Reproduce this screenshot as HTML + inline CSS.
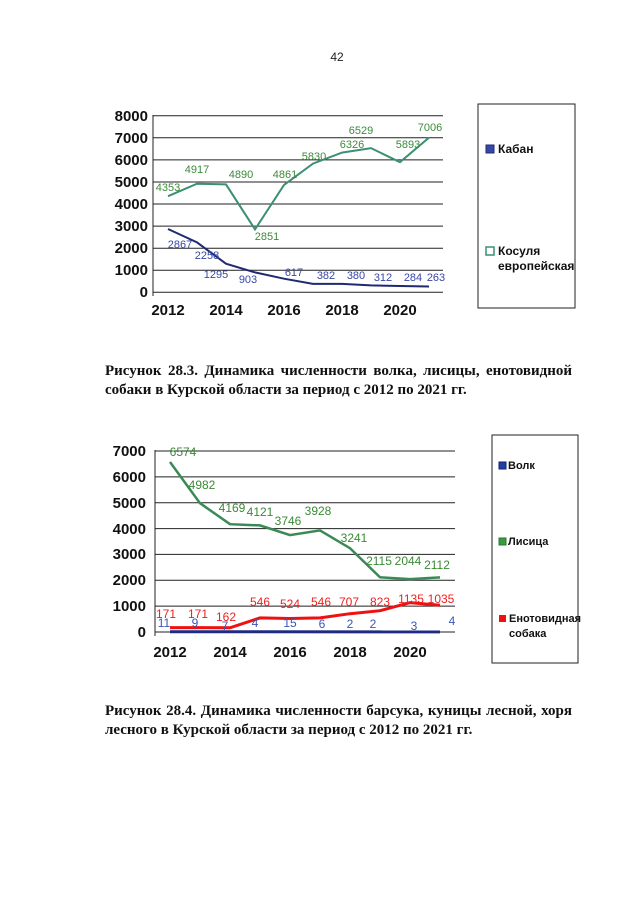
<!DOCTYPE html>
<html><head><meta charset="utf-8"><style>
body{margin:0;background:#fff;}
.cap{position:absolute;left:105px;width:467px;font-family:"Liberation Serif",serif;font-weight:bold;font-size:15px;line-height:19px;text-align:justify;text-align-last:left;color:#111;}
</style></head><body>
<div style="position:relative;width:640px;height:905px;overflow:hidden;">
<svg width="640" height="905" style="position:absolute;left:0;top:0" font-family="Liberation Sans, sans-serif">
<text x="337" y="61" font-size="12" text-anchor="middle" fill="#222">42</text>
<g stroke="#222" stroke-width="1">
<line x1="153" y1="115.7" x2="443" y2="115.7"/><line x1="153" y1="137.8" x2="443" y2="137.8"/>
<line x1="153" y1="159.9" x2="443" y2="159.9"/><line x1="153" y1="182" x2="443" y2="182"/>
<line x1="153" y1="204" x2="443" y2="204"/><line x1="153" y1="226.1" x2="443" y2="226.1"/>
<line x1="153" y1="248.2" x2="443" y2="248.2"/><line x1="153" y1="270.2" x2="443" y2="270.2"/>
<line x1="153" y1="292.3" x2="443" y2="292.3"/>
<line x1="153" y1="115" x2="153" y2="296"/>
</g>
<g font-size="15" font-weight="bold" text-anchor="end" fill="#111">
<text x="148" y="121">8000</text><text x="148" y="143">7000</text><text x="148" y="165">6000</text><text x="148" y="187">5000</text><text x="148" y="209">4000</text><text x="148" y="231">3000</text><text x="148" y="253">2000</text><text x="148" y="275">1000</text><text x="148" y="297">0</text>
</g>
<g font-size="15" font-weight="bold" text-anchor="middle" fill="#111">
<text x="168" y="315">2012</text><text x="226" y="315">2014</text><text x="284" y="315">2016</text><text x="342" y="315">2018</text><text x="400" y="315">2020</text>
</g>
<polyline fill="none" stroke="#3a9070" stroke-width="2" points="168,196.2 197,183.7 226,184.4 255,229.4 284,185 313,163.6 342,152.6 371,148.1 400,162.2 429,137.6"/>
<polyline fill="none" stroke="#1f2a70" stroke-width="2" points="168,229 197,242.4 226,263.7 255,272.4 284,278.7 313,283.9 342,283.9 371,285.4 400,286 429,286.5"/>
<g font-size="11" fill="#3d8a3a" text-anchor="middle">
<text x="168" y="191">4353</text><text x="197" y="173">4917</text><text x="241" y="178">4890</text><text x="267" y="240">2851</text><text x="285" y="178">4861</text><text x="314" y="160">5830</text><text x="352" y="148">6326</text><text x="361" y="134">6529</text><text x="408" y="148">5893</text><text x="430" y="131">7006</text>
</g>
<g font-size="11" fill="#3848a8" text-anchor="middle">
<text x="180" y="248">2867</text><text x="207" y="259">2258</text><text x="216" y="278">1295</text><text x="248" y="283">903</text><text x="294" y="276">617</text><text x="326" y="279">382</text><text x="356" y="279">380</text><text x="383" y="281">312</text><text x="413" y="281">284</text><text x="436" y="281">263</text>
</g>
<rect x="478" y="104" width="97" height="204" fill="none" stroke="#222" stroke-width="1"/>
<rect x="486" y="145" width="8" height="8" fill="#3848a8" stroke="#1f2a70"/>
<text x="498" y="153" font-size="12" font-weight="bold" fill="#111">Кабан</text>
<rect x="486" y="247" width="8" height="8" fill="#fff" stroke="#3a9070" stroke-width="1.5"/>
<text x="498" y="255" font-size="12" font-weight="bold" fill="#111">Косуля</text>
<text x="498" y="270" font-size="12" font-weight="bold" fill="#111">европейская</text>
<g stroke="#222" stroke-width="1">
<line x1="155" y1="451" x2="455" y2="451"/><line x1="155" y1="476.9" x2="455" y2="476.9"/>
<line x1="155" y1="502.7" x2="455" y2="502.7"/><line x1="155" y1="528.6" x2="455" y2="528.6"/>
<line x1="155" y1="554.4" x2="455" y2="554.4"/><line x1="155" y1="580.3" x2="455" y2="580.3"/>
<line x1="155" y1="606.1" x2="455" y2="606.1"/><line x1="155" y1="632" x2="455" y2="632"/>
<line x1="155" y1="450" x2="155" y2="636"/>
</g>
<g font-size="15" font-weight="bold" text-anchor="end" fill="#111">
<text x="146" y="456">7000</text><text x="146" y="482">6000</text><text x="146" y="508">5000</text><text x="146" y="534">4000</text><text x="146" y="559">3000</text><text x="146" y="585">2000</text><text x="146" y="611">1000</text><text x="146" y="637">0</text>
</g>
<g font-size="15" font-weight="bold" text-anchor="middle" fill="#111">
<text x="170" y="657">2012</text><text x="230" y="657">2014</text><text x="290" y="657">2016</text><text x="350" y="657">2018</text><text x="410" y="657">2020</text>
</g>
<polyline fill="none" stroke="#3a8a55" stroke-width="2.5" points="170,462 200,503.2 230,524.2 260,525.4 290,535.1 320,530.4 350,548.2 380,577.3 410,579.1 440,577.4"/>
<polyline fill="none" stroke="#f01010" stroke-width="3" points="170,627.6 200,627.6 230,627.8 260,617.9 290,618.5 320,617.9 350,613.7 380,610.7 410,602.6 440,605.2"/>
<polyline fill="none" stroke="#1f2a80" stroke-width="3" points="170,631.7 440,631.9"/>
<g font-size="12" fill="#3a8a35" text-anchor="middle">
<text x="183" y="456">6574</text><text x="202" y="489">4982</text><text x="232" y="512">4169</text><text x="260" y="516">4121</text><text x="288" y="525">3746</text><text x="318" y="515">3928</text><text x="354" y="542">3241</text><text x="379" y="565">2115</text><text x="408" y="565">2044</text><text x="437" y="569">2112</text>
</g>
<g font-size="12" fill="#f02020" text-anchor="middle">
<text x="166" y="618">171</text><text x="198" y="618">171</text><text x="226" y="621">162</text><text x="260" y="606">546</text><text x="290" y="608">524</text><text x="321" y="606">546</text><text x="349" y="606">707</text><text x="380" y="606">823</text><text x="411" y="603">1135</text><text x="441" y="603">1035</text>
</g>
<g font-size="12" fill="#3a55b8" text-anchor="middle">
<text x="164" y="627">11</text><text x="195" y="627">9</text><text x="225" y="630">7</text><text x="255" y="627">4</text><text x="290" y="627">15</text><text x="322" y="628">6</text><text x="350" y="628">2</text><text x="373" y="628">2</text><text x="414" y="630">3</text><text x="452" y="625">4</text>
</g>
<rect x="492" y="435" width="86" height="228" fill="none" stroke="#222" stroke-width="1"/>
<rect x="499" y="462" width="7" height="7" fill="#2040a0" stroke="#102070"/>
<text x="508" y="469" font-size="11" font-weight="bold" fill="#111">Волк</text>
<rect x="499" y="538" width="7" height="7" fill="#3a9a40" stroke="#2a7a30"/>
<text x="508" y="545" font-size="11" font-weight="bold" fill="#111">Лисица</text>
<rect x="499" y="615" width="7" height="7" fill="#f01010"/>
<text x="509" y="622" font-size="11" font-weight="bold" fill="#111">Енотовидная</text>
<text x="509" y="637" font-size="11" font-weight="bold" fill="#111">собака</text>
</svg>
<div class="cap" style="top:362px;">Рисунок 28.3. Динамика численности волка, лисицы, енотовидной собаки в Курской области за период с 2012 по 2021 гг.</div>
<div class="cap" style="top:702px;">Рисунок 28.4. Динамика численности барсука, куницы лесной, хоря лесного в Курской области за период с 2012 по 2021 гг.</div>
</div>
</body></html>
